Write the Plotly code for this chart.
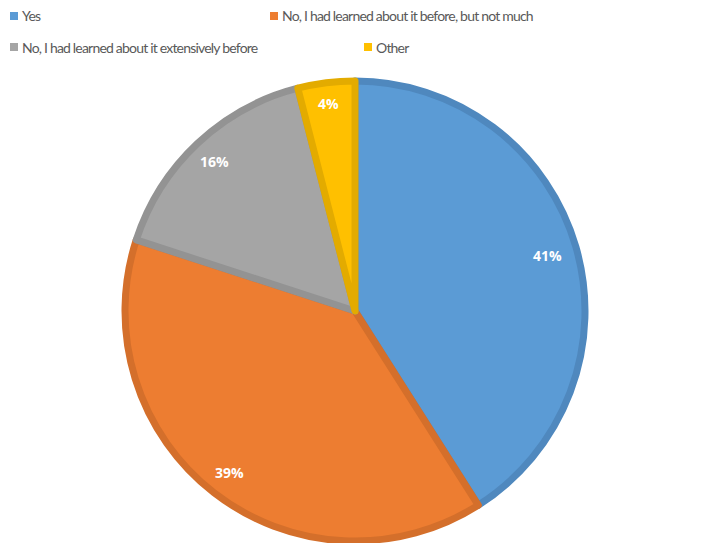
import math
import plotly.graph_objects as go

categories = ["Yes", "No, I had learned about it before, but not much",
              "No, I had learned about it extensively before", "Other"]
values = [41, 39, 16, 4]
fill_colors = ["#5B9BD5", "#ED7D31", "#A5A5A5", "#FFC000"]
edge_colors = ["#4F88BE", "#D46F2B", "#939393", "#E3AB00"]

W, H = 704, 543
OFF = 8  # browser body margin
cx, cy, R = 355 - OFF, 311 - OFF, 230  # pixel center / radius

fig = go.Figure()
fig.add_trace(go.Pie(
    labels=categories, values=values, sort=False, direction="clockwise",
    rotation=0,
    marker=dict(colors=fill_colors, line=dict(color=edge_colors, width=7)),
    textinfo="none", hoverinfo="label+percent", showlegend=False,
    domain=dict(x=[(cx - R) / W, (cx + R) / W],
                y=[(H - cy - R) / H, (H - cy + R) / H]),
))

# percentage labels near the outer edge of each slice
total = sum(values)
cum = 0
label_r = [0.87, 0.89, 0.89, 0.91]
for v, rf in zip(values, label_r):
    mid = (cum + v / 2) / total * 2 * math.pi
    cum += v
    px = cx + rf * R * math.sin(mid)
    py = cy - rf * R * math.cos(mid)
    fig.add_annotation(x=px / W, y=1 - py / H, xref="paper", yref="paper",
                       xanchor="center", yanchor="middle",
                       text="<b>%d%%</b>" % round(v / total * 100), showarrow=False,
                       font=dict(color="white", size=14, family="Open Sans"))

# legend drawn as squares + text entries
legend_pos = [(10, 16), (270, 16), (10, 47), (364, 47)]
for name, col, (lx, ly) in zip(categories, fill_colors, legend_pos):
    lx -= OFF
    ly -= OFF
    fig.add_shape(type="rect", xref="paper", yref="paper",
                  x0=lx / W, x1=(lx + 8) / W, y0=1 - (ly - 4) / H, y1=1 - (ly + 4) / H,
                  fillcolor=col, line=dict(width=0))
    fig.add_annotation(x=(lx + 11) / W, y=1 - ly / H, xref="paper", yref="paper",
                       xanchor="left", yanchor="middle", showarrow=False,
                       text="<span style='letter-spacing:-0.8px'>%s</span>" % name,
                       borderpad=0,
                       font=dict(color="#595959", size=14, family="Lato"))

fig.update_layout(width=W, height=H, margin=dict(l=0, r=0, t=0, b=0),
                  paper_bgcolor="white", plot_bgcolor="white")
fig.write_html("out.html")
